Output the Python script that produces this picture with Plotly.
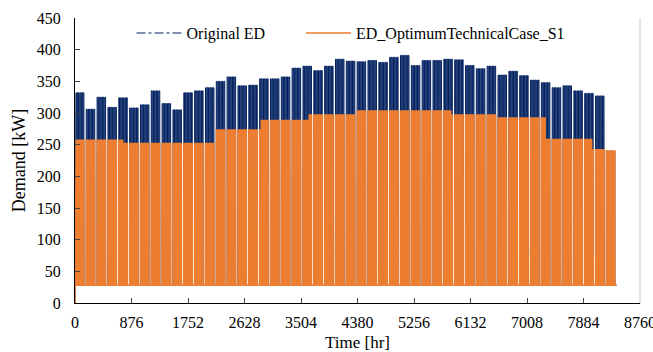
import numpy as np
import plotly.graph_objects as go

# ---- data ----
base_demand = 28          # night / Sunday demand [kW]
first_hour_demand = 0     # first sample of the year
# weekly peak of the original demand [kW] (50 weeks shown)
week_peak = [332, 306, 325, 309, 324, 308, 313, 335, 315, 305,
             332, 335, 340, 350, 357, 343, 344, 354, 354, 357,
             371, 374, 367, 374, 385, 382, 381, 383, 380, 388,
             391, 375, 383, 383, 385, 384, 375, 370, 374, 360,
             366, 359, 352, 348, 340, 343, 335, 331, 327, 240]
# monthly demand limit of the optimum technical case [kW]
month_hours = [744, 672, 744, 720, 744, 720, 744, 744, 720, 744, 720, 744]
month_cap = [257, 252, 252, 273, 288, 297, 303, 303, 297, 292, 258, 242]
work_start, work_end = 7, 19   # working hours of each day (Mon-Sat)
x_ticks = [0, 876, 1752, 2628, 3504, 4380, 5256, 6132, 7008, 7884, 8760]

# ---- build hourly series ----
n = len(week_peak) * 168
hours = np.arange(n)
orig = np.full(n, float(base_demand))
for w, pk in enumerate(week_peak):
    for d in range(6):
        s = w * 168 + d * 24
        orig[s + work_start:s + work_end] = pk
orig[0] = first_hour_demand
month_of_hour = np.repeat(np.arange(12), month_hours)[:n]
cap = np.array(month_cap, dtype=float)[month_of_hour]
opt = np.minimum(orig, cap)

BLUE = "#002060"
ORANGE = "#ED7D31"
FONT = "Times New Roman, Liberation Serif, DejaVu Serif, serif"

fig = go.Figure()
fig.add_trace(go.Scatter(x=hours, y=orig, mode="lines", name="Original ED",
                         showlegend=False,
                         line=dict(color=BLUE, width=1)))
fig.add_trace(go.Scatter(x=[None], y=[None], mode="lines", name="Original ED",
                         legend="legend",
                         line=dict(color=BLUE, width=1, dash="dashdot")))
fig.add_trace(go.Scatter(x=hours, y=opt, mode="lines", name="ED_OptimumTechnicalCase_S1",
                         legend="legend2",
                         line=dict(color=ORANGE, width=1.5)))

leg_common = dict(orientation="h", xanchor="left", yanchor="middle", y=0.947,
                  bgcolor="rgba(0,0,0,0)", font=dict(family=FONT, size=16),
                  itemwidth=45)
fig.update_layout(
    width=653, height=352,
    margin=dict(l=75, r=13, t=18, b=49, autoexpand=False),
    paper_bgcolor="white", plot_bgcolor="white",
    font=dict(family=FONT, size=16, color="black"),
    legend=dict(x=0.10, **leg_common),
    legend2=dict(x=0.40, **leg_common),
    xaxis=dict(range=[0, 8760], tickvals=x_ticks, ticks="inside", ticklen=5,
               showline=True, linecolor="black", linewidth=1, showgrid=False,
               zeroline=False, tickfont=dict(family=FONT, size=16), ticklabelstandoff=5,
               ticklabeloverflow="allow", automargin=False,
               title=dict(text="Time [hr]", font=dict(family=FONT, size=17), standoff=8)),
    yaxis=dict(range=[0, 450], dtick=50, ticks="inside", ticklen=5,
               showline=True, linecolor="black", linewidth=1, showgrid=False,
               zeroline=False, tickfont=dict(family=FONT, size=16), ticklabelstandoff=10,
               automargin=False,
               title=dict(text="Demand [kW]", font=dict(family=FONT, size=18), standoff=6)),
    shapes=[dict(type="line", xref="paper", yref="paper", x0=1, x1=1, y0=0, y1=1,
                 line=dict(color="#c8c8c8", width=1))],
)
fig.write_html("out.html")
